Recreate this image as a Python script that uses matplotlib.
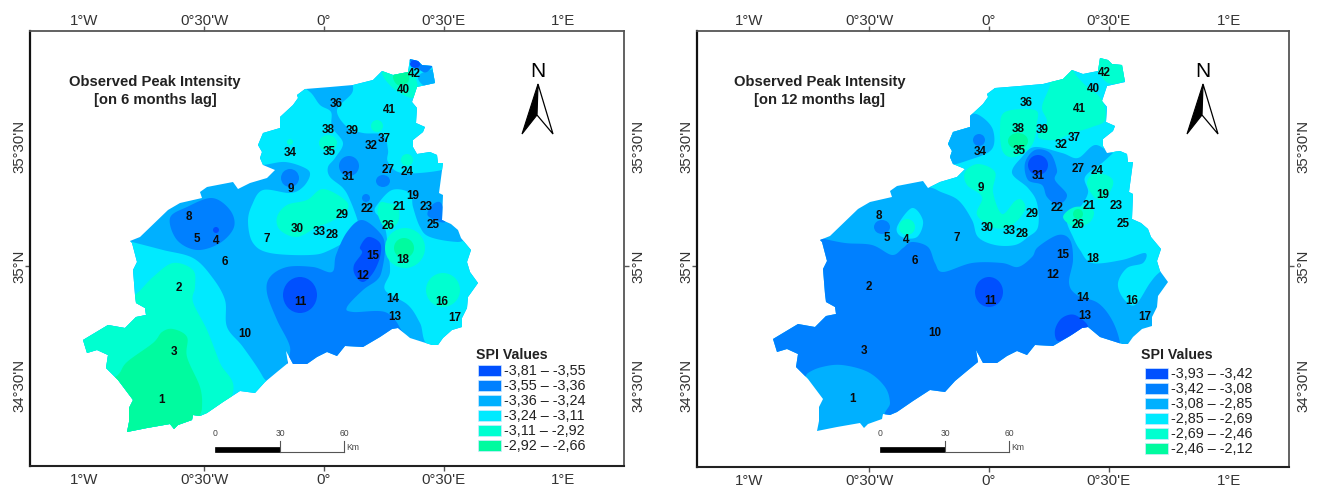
import numpy as np
import matplotlib
matplotlib.use("Agg")
import matplotlib.pyplot as plt
from matplotlib.patches import Polygon, Ellipse, Rectangle

plt.rcParams['font.family'] = ['Liberation Sans', 'DejaVu Sans']

# ---- data: digitised map units (1 unit = 1/239.5 degree, origin 0 deg at x=324, 35N at y=266)
OUTLINE = [(83,340),(108,325),(125,328),(136,317),(146,315),(145,308),(136,303),(135,295),(133,270),(137,262),
 (132,243),(130,241),(140,237),(168,210),(180,203),(202,198),(200,192),(207,187),(233,182),(238,189),(250,183),
 (267,178),(275,170),(263,165),(260,158),(262,152),(258,145),(263,133),(280,128),(280,117),(293,105),(298,98),
 (297,95),(305,89),(330,87),(353,85),(373,80),(382,71),(393,75),(408,72),(410,59),(418,61),(422,65),(432,66),
 (435,83),(417,87),(412,102),(417,108),(416,123),(425,127),(423,132),(413,140),(413,147),(417,154),(430,152),
 (437,155),(438,163),(443,163),(439,193),(443,195),(442,220),(451,224),(458,230),(461,238),(471,250),(467,262),
 (470,272),(478,283),(468,297),(467,308),(462,318),(462,327),(452,330),(443,338),(438,345),(432,345),(410,338),
 (398,328),(392,329),(380,337),(363,347),(345,346),(337,356),(327,352),(317,357),(307,364),(293,364),(286,351),
 (288,363),(277,372),(265,382),(255,393),(240,391),(223,402),(207,413),(200,416),(193,415),(192,420),(178,425),
 (174,429),(170,424),(147,428),(127,432),(129,422),(129,408),(133,400),(118,380),(106,368),(108,355),(97,350),(87,353)]

STATION_IDS = [1,2,3,4,5,6,7,8,9,10,11,12,13,14,15,16,17,18,19,21,22,23,24,25,26,27,28,29,30,31,32,33,34,35,36,37,38,39,40,41,42]
STATION_X = [162,179,174,216,197,225,267,189,291,245,300,363,395,393,373,442,455,403,413,399,367,426,407,433,388,388,332,342,297,348,371,319,290,329,336,384,328,352,403,389,414]
STATION_Y = [400,288,352,241,239,262,239,217,189,334,302,276,317,299,256,302,318,260,196,207,209,207,172,225,226,170,235,215,229,177,146,232,153,152,104,139,130,131,90,110,74]

CLASS_COLORS = ['#0050FF', '#0080FF', '#00B0FF', '#00EAFF', '#00FFD0', '#00FB9F']
BREAKS_6M = ['3,81','3,55','3,36','3,24','3,11','2,92','2,66']
BREAKS_12M = ['3,93','3,42','3,08','2,85','2,69','2,46','2,12']
LON_TICKS = [-1, -0.5, 0, 0.5, 1]
LON_LABELS = ["1°W", "0°30'W", "0°", "0°30'E", "1°E"]
LAT_TICKS = [34.5, 35, 35.5]
LAT_LABELS = ["34°30'N", "35°N", "35°30'N"]
SCALE_KM = [0, 30, 60]

# 6-month zones
M6_W4 = [(132,242),(163,250),(193,258),(212,277),(225,300),(227,327),(243,347),(263,377),(272,402),(150,450),(65,350),(115,238)]
M6_W5 = [(135,295),(153,277),(173,263),(193,270),(195,287),(193,302),(207,330),(220,363),(233,392),(200,445),(75,440),(60,330),(120,300)]
M6_W6 = [(118,375),(127,362),(153,343),(162,332),(173,329),(187,337),(187,357),(200,387),(202,407),(199,418),(190,445),(110,445),(100,390)]
M6_C4 = [(263,165),(285,162),(305,168),(310,175),(303,187),(290,193),(263,190),(252,205),(248,222),(253,243),(270,253),(310,255),(330,250),(358,233),(358,222),(350,200),(343,188),(330,177),(328,167),(335,158),(343,143),(332,127),(331,112),(320,105),(310,92),(295,85),(270,95),(240,130),(245,165)]
M6_NE4 = [(353,80),(352,93),(337,110),(347,127),(363,133),(383,135),(388,150),(388,162),(402,173),(442,170),(455,160),(450,55),(360,60)]
M6_E4 = [(377,205),(392,190),(410,193),(413,207),(420,227),(430,237),(458,242),(490,240),(490,350),(432,348),(420,323),(408,305),(385,290),(390,272),(388,250),(386,232),(382,220),(375,212)]
M6_TOP5 = [(382,73),(393,88),(412,98),(418,87),(410,70),(393,68)]
M6_TOP6 = [(393,77),(398,85),(408,82),(408,72),(398,70)]
M6_C5 = [(277,217),(287,205),(307,200),(323,189),(345,200),(347,210),(330,222),(317,227),(297,237),(280,230)]
M6_26 = [(380,203),(378,215),(387,230),(398,222),(398,207),(387,203)]
M6_NW2 = [(170,218),(187,207),(212,198),(230,210),(234,227),(220,243),(197,250),(177,240)]
M6_25 = [(432,205),(441,203),(445,222),(428,216)]
M6_42_3 = [(418,78),(424,72),(438,70),(440,85),(425,86)]
M6_42_2 = [(405,55),(423,72),(432,67),(436,60),(418,52)]
M6_C2 = [(267,293),(270,277),(287,267),(313,267),(332,272),(336,255),(347,232),(362,220),(380,233),(385,247),(382,270),(377,280),(363,290),(347,307),(353,312),(385,312),(400,328),(402,345),(340,372),(290,372),(290,347),(277,320)]
M6_15 = [(360,247),(368,237),(380,243),(380,257),(373,273),(363,282),(355,275),(354,265),(362,253)]
M6_E5 = [(405,248,20,20),(443,290,17,17),(328,143,9,8),(377,126,6,6),(407,160,6,6),(290,142,3,3)]
M6_E6 = [(404,248,10,10)]
M6_E2 = [(290,178,9,9),(349,166,10,10),(383,181,7,6),(366,198,4,4)]
M6_E1 = [(300,295,17,18),(216,230,3,3),(415,64,5,4)]

M6_ZONES = [(3,M6_W4),(4,M6_W5),(5,M6_W6),(3,M6_C4),(3,M6_NE4),(3,M6_E4),(4,M6_TOP5),(5,M6_TOP6),(4,M6_C5),(4,M6_26),
            (1,M6_NW2),(1,M6_25),(2,M6_42_3),(1,M6_42_2),(1,M6_C2),(0,M6_15)]

# 12-month zones
M12_S2 = [(125,238),(130,239),(155,244),(182,246),(202,256),(213,249),(222,243),(238,248),(245,264),(253,273),(282,264),(312,264),(328,268),(342,258),(348,248),(368,236),(380,241),(383,261),(379,284),(387,296),(408,304),(422,321),(430,344),(430,368),(340,388),(240,425),(197,418),(200,404),(195,388),(178,373),(152,366),(132,368),(118,374),(105,385),(60,350),(60,300),(112,235)]
M12_13 = [(365,331),(372,319),(385,316),(398,328),(382,336),(368,342)]
M12_N4 = [(247,191),(268,201),(282,221),(288,238),(305,246),(325,246),(338,238),(348,228),(347,204),(338,189),(322,174),(332,158),(345,148),(372,154),(388,159),(405,146),(423,154),(432,140),(450,60),(350,50),(240,130),(235,180)]
M12_34 = [(280,115),(292,118),(303,131),(302,150),(282,160),(255,165),(250,140),(260,125)]
M12_E4 = [(423,154),(412,164),(395,178),(398,194),(388,211),(377,221),(383,238),(390,251),(402,264),(432,261),(455,254),(453,264),(437,269),(428,284),(433,299),(445,306),(460,284),(470,273),(490,260),(480,150),(432,145)]
M12_NE5 = [(352,108),(360,86),(360,70),(383,60),(383,71),(393,84),(412,101),(415,121),(402,128),(383,134),(365,141),(348,138),(357,123)]
M12_42 = [(407,68),(418,84),(435,81),(442,64),(412,52)]
M12_38 = [(310,131),(315,113),(345,111),(347,124),(342,146),(325,158),(313,153)]
M12_9 = [(275,173),(288,165),(305,173),(303,193),(312,215),(325,202),(332,201),(335,211),(322,226),(305,229),(287,216),(292,198),(277,186)]
M12_4 = [(207,228),(222,209),(233,222),(227,238),(212,238)]
M12_31 = [(335,164),(345,151),(360,154),(367,171),(365,181),(377,196),(368,206),(357,198),(352,186),(338,181)]
M12_26 = [(373,218),(385,208),(403,211),(400,223),(385,228)]
M12_24 = [(397,184),(405,174),(420,178),(423,186),(415,199),(405,199)]
M12_E5 = [(217,228,8,8)]
M12_E6 = [(328,142,10,8),(388,215,5,5)]
M12_E2 = [(192,228,8,7),(289,141,6,6)]
M12_E1 = [(299,293,14,15),(348,166,10,10)]
M12_ZONES = [(1,M12_S2),(0,M12_13),(3,M12_N4),(2,M12_34),(3,M12_E4),(4,M12_NE5),(4,M12_42),(4,M12_38),(4,M12_9),(3,M12_4),
             (1,M12_31),(4,M12_26),(4,M12_24)]


def lon(x):
    return (np.asarray(x, float) - 324) / 239.5

def lat(y):
    return 35 - (np.asarray(y, float) - 266) / 238.7

def smooth(pts, n=12):
    p = np.array(pts, float)
    out = []
    t = np.linspace(0, 1, n, endpoint=False)[:, None]
    for i in range(len(p)):
        p0, p1, p2, p3 = p[i-1], p[i], p[(i+1) % len(p)], p[(i+2) % len(p)]
        out.append(0.5*((2*p1) + (p2-p0)*t + (2*p0-5*p1+4*p2-p3)*t**2 + (3*p1-p0-3*p2+p3)*t**3))
    return np.vstack(out)

W, H = 1319, 491
fig = plt.figure(figsize=(W/100, H/100), dpi=100)
TICK = dict(length=3.6, width=1, color='#555555', labelsize=10.8, labelcolor='#333333')

def hide_outer_marks(axis, keep):
    # only the inner graticule crossings carry a tick mark; outer labels stand alone
    for tick, loc in zip(axis.get_major_ticks(), axis.get_majorticklocs()):
        if loc not in keep:
            tick.tick1line.set_visible(False)
            tick.tick2line.set_visible(False)

def make_axes(x0, x1, y0, y1, zero_x):
    ax = fig.add_axes([x0/W, 1-y1/H, (x1-x0)/W, (y1-y0)/H])
    ax.set_xlim((x0-zero_x)/239.5, (x1-zero_x)/239.5)
    ax.set_ylim(lat(y1), lat(y0))
    ax.set_xticks(LON_TICKS, LON_LABELS)
    ax.yaxis.tick_right()
    ax.set_yticks(LAT_TICKS, LAT_LABELS, rotation=90, va='center')
    ax.tick_params(axis='x', pad=1.1, **TICK)
    ax.tick_params(axis='y', pad=2.1, **TICK)
    top = ax.secondary_xaxis('top')
    top.set_xticks(LON_TICKS, LON_LABELS)
    top.tick_params(pad=-1.2, **TICK)
    left = ax.secondary_yaxis('left')
    left.set_yticks(LAT_TICKS, LAT_LABELS, rotation=90, va='center')
    left.tick_params(pad=-0.7, **TICK)
    for sec in (top, left):
        for s in sec.spines.values():
            s.set_visible(False)
    for axis in (ax.xaxis, top.xaxis):
        hide_outer_marks(axis, (-0.5, 0, 0.5))
    for axis in (ax.yaxis, left.yaxis):
        hide_outer_marks(axis, (35,))
    for s in ax.spines.values():
        s.set_color('#555555'); s.set_linewidth(1.3)
    ax.spines['left'].set_color('#111111'); ax.spines['left'].set_linewidth(1.6)
    ax.spines['bottom'].set_color('#222222'); ax.spines['bottom'].set_linewidth(1.5)
    return ax

def draw_map(ax, shift_x, shift_y, base, zones, e2, e1, e5=(), e6=()):
    ox = np.array(OUTLINE, float)
    X = lambda v: lon(np.asarray(v) + shift_x)
    Y = lambda v: lat(np.asarray(v) + shift_y)
    clip = Polygon(np.c_[X(ox[:,0]), Y(ox[:,1])], closed=True, transform=ax.transData)
    ax.add_patch(Polygon(np.c_[X(ox[:,0]), Y(ox[:,1])], closed=True, fc=CLASS_COLORS[base], ec='none', zorder=1))
    z = 2
    for cls, pts in zones:
        s = smooth(pts)
        a = ax.fill(X(s[:,0]), Y(s[:,1]), fc=CLASS_COLORS[cls], ec='none', zorder=z)[0]
        a.set_clip_path(clip); z += 0.01
    for cls, group in ((1, e2), (4, e5), (5, e6), (0, e1)):
        for cx, cy, rx, ry in group:
            e = Ellipse((X(cx), Y(cy)), 2*rx/239.5, 2*ry/238.7, fc=CLASS_COLORS[cls], ec='none', zorder=5)
            ax.add_patch(e); e.set_clip_path(clip)
    for i, x, y in zip(STATION_IDS, STATION_X, STATION_Y):
        ax.text(X(x), Y(y), str(i), fontsize=8.4, fontweight='bold', color='#0a0a0a', ha='center', va='center', zorder=8)

ax1 = make_axes(30, 624, 31, 466, 324)
ax2 = make_axes(697, 1289, 31, 467, 989)
draw_map(ax1, 0, 0, 2, M6_ZONES, M6_E2, M6_E1, M6_E5, M6_E6)
draw_map(ax2, 25, -1, 2, M12_ZONES, M12_E2, M12_E1, M12_E5, M12_E6)

# overlay in figure pixels for the map furniture
ov = fig.add_axes([0, 0, 1, 1], facecolor='none')
ov.set_xlim(0, W); ov.set_ylim(H, 0); ov.axis('off')

def furniture(dx, title2, breaks, sw_x, sw_y, title_x):
    ov.text(155+dx, 82, "Observed Peak Intensity", fontsize=10.6, fontweight='bold', color='#222222', ha='center', va='center')
    ov.text(155+dx, 100, title2, fontsize=10.6, fontweight='bold', color='#222222', ha='center', va='center')
    ov.text(538+dx, 71, "N", fontsize=15, color='black', ha='center', va='center')
    ov.add_patch(Polygon([(538+dx,84),(522+dx,134),(537+dx,115)], fc='black', ec='black', lw=0.8))
    ov.add_patch(Polygon([(538+dx,84),(553+dx,134),(537+dx,115)], fc='white', ec='black', lw=0.9))
    # scale bar
    ov.add_patch(Rectangle((215+dx,447), 65, 5, fc='black', ec='black', lw=0.5))
    ov.plot([280+dx,344+dx],[451.5,451.5], color='#555555', lw=0.8)
    for km, xp in zip(SCALE_KM, (215, 280, 344)):
        ov.text(xp+dx, 433, str(km), fontsize=6.2, color='#444444', ha='center', va='center')
        if km:
            ov.plot([xp+dx,xp+dx],[441,452], color='#555555', lw=0.8)
    ov.text(346+dx, 448, "Km", fontsize=6.2, color='#444444', ha='left', va='center')
    # legend
    ov.text(title_x, 355, "SPI Values", fontsize=10.2, fontweight='bold', color='#222222', ha='left', va='center')
    for k, col in enumerate(CLASS_COLORS):
        y = sw_y + 15*k
        ov.add_patch(Rectangle((sw_x, y), 23, 11, fc=col, ec='#d0e8ff', lw=0.5))
        ov.text(sw_x+26, y+5.8, f"-{breaks[k]} – -{breaks[k+1]}", fontsize=10.4, color='#222222', ha='left', va='center')

furniture(0, "[on 6 months lag]", BREAKS_6M, 478, 365, 476)
furniture(665, "[on 12 months lag]", BREAKS_12M, 1145, 368, 1141)

fig.savefig("out.png", dpi=100)
